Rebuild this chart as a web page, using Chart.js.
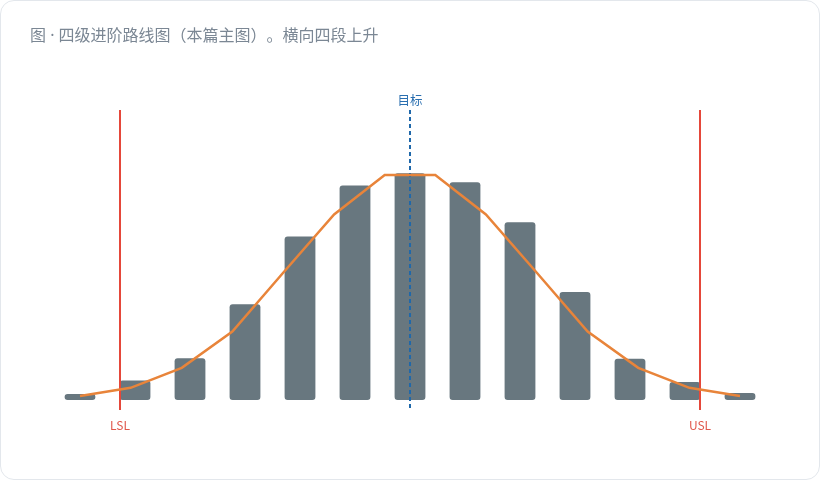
<!DOCTYPE html>
<html lang="zh-CN">
<head>
<meta charset="utf-8">
<script src="https://cdn.jsdelivr.net/npm/chart.js@4.4.1/dist/chart.umd.min.js"></script>
<style>
  html, body { margin: 0; padding: 0; background: #ffffff; }
  .card {
    position: relative;
    width: 818px;
    height: 478px;
    border: 1px solid #e3e7ec;
    border-radius: 14px;
    background: #fff;
    overflow: hidden;
  }
  .caption {
    position: absolute;
    left: 29px;
    top: 21px;
    font: 16px "Noto Sans", "Noto Sans CJK SC", sans-serif;
    color: #7b8794;
    text-spacing-trim: space-all;
  }
  .chart-box { position: absolute; left: -1px; top: -1px; width: 820px; height: 480px; }
</style>
</head>
<body>
<div class="card">
  <div class="chart-box"><canvas id="capChart"></canvas></div>
  <div class="caption">图 · 四级进阶路线图（本篇主图）。横向四段上升</div>
</div>
<script>
// Các cột histogram (13 bin, vị trí theo trục x)
const bins = [0, 1, 2, 3, 4, 5, 6, 7, 8, 9, 10, 11, 12];
const counts = [2.1, 6.7, 14.4, 33.0, 56.4, 74.0, 78.2, 75.1, 61.3, 37.2, 14.2, 6.2, 2.4];

// Đường phân phối chuẩn (14 điểm)
const fitX = [0, 0.92, 1.85, 2.77, 3.69, 4.62, 5.54, 6.46, 7.38, 8.31, 9.23, 10.15, 11.08, 12];
const fitY = [1.4, 4.2, 11.1, 23.6, 43.8, 64.0, 77.6, 77.6, 64.0, 43.8, 23.6, 11.1, 4.2, 1.4];

// Giới hạn quy cách
const specNames = ["LSL", "USL"];
const specPos = [0.73, 11.27];
const targetName = "目标";
const targetPos = 6;

// Vẽ LSL / USL / mục tiêu ngay sau lớp cột
const specLinesPlugin = {
  id: "specLines",
  afterDatasetDraw(chart, args) {
    if (args.index !== 0) return;
    const { ctx, chartArea } = chart;
    const sx = chart.scales.x;
    ctx.save();
    ctx.font = '12px "Noto Sans CJK SC", sans-serif';
    ctx.textAlign = "center";
    ctx.textBaseline = "middle";

    specPos.forEach((v, i) => {
      const x = Math.round(sx.getPixelForValue(v));
      ctx.strokeStyle = "#e5483a";
      ctx.lineWidth = 2;
      ctx.beginPath();
      ctx.moveTo(x, chartArea.top);
      ctx.lineTo(x, chartArea.bottom + 10);
      ctx.stroke();
      ctx.fillStyle = "#e0574b";
      ctx.fillText(specNames[i], x, chartArea.bottom + 25);
    });

    const tx = Math.round(sx.getPixelForValue(targetPos));
    ctx.strokeStyle = "#1f68aa";
    ctx.lineWidth = 2;
    ctx.setLineDash([4, 3]);
    ctx.beginPath();
    ctx.moveTo(tx, chartArea.top);
    ctx.lineTo(tx, chartArea.bottom + 10);
    ctx.stroke();
    ctx.setLineDash([]);
    ctx.fillStyle = "#2a6fb0";
    ctx.font = '12.5px "Noto Sans CJK SC", sans-serif';
    ctx.fillText(targetName, tx, chartArea.top - 10);
    ctx.restore();
  },
};

const initChart = () => {
  const ctx = document.getElementById("capChart").getContext("2d");

  new Chart(ctx, {
    type: "bar",
    data: {
      datasets: [
        {
          type: "bar",
          data: bins.map((b, i) => ({ x: b, y: counts[i] })),
          backgroundColor: "#68777f",
          borderRadius: 3,
          borderSkipped: false,
          grouped: false,
          categoryPercentage: 0.8,
          barPercentage: 0.7,
          order: 2,
        },
        {
          type: "line",
          data: fitX.map((x, i) => ({ x: x, y: fitY[i] })),
          borderColor: "#e8843a",
          borderWidth: 2.5,
          pointRadius: 0,
          tension: 0,
          fill: false,
          order: 1,
        },
      ],
    },
    options: {
      responsive: true,
      maintainAspectRatio: false,
      animation: false,
      layout: { padding: { left: 52.5, right: 52.5, top: 110, bottom: 80 } },
      plugins: {
        legend: { display: false },
        tooltip: { enabled: false },
      },
      scales: {
        x: { type: "linear", display: false, offset: false, min: -0.5, max: 12.5 },
        y: { display: false, min: 0, max: 100 },
      },
    },
    plugins: [specLinesPlugin],
  });
};

document.addEventListener("DOMContentLoaded", initChart);
</script>
</body>
</html>
